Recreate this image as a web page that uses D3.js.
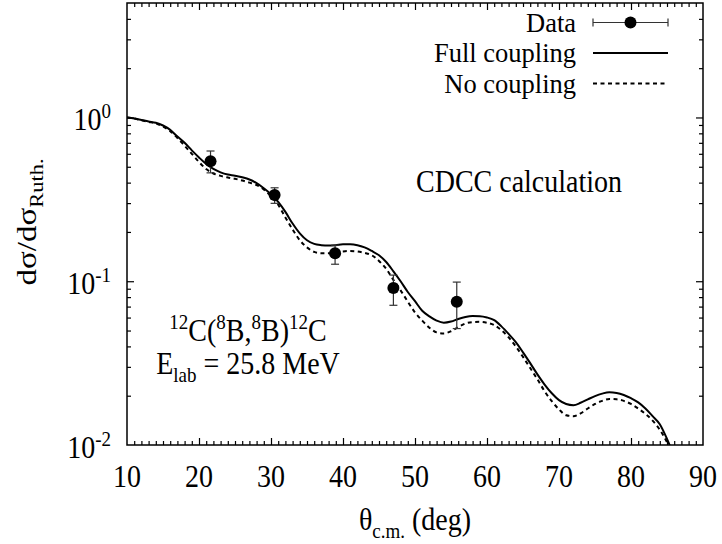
<!DOCTYPE html>
<html>
<head>
<meta charset="utf-8">
<script src="https://cdn.jsdelivr.net/npm/d3@7"></script>
<style>
  html, body { margin: 0; padding: 0; background: #fff; }
  svg { display: block; }
</style>
</head>
<body>
<svg id="chart" width="722" height="544"></svg>
<script>
// ---------------- data ----------------
const xTickValues = [10, 20, 30, 40, 50, 60, 70, 80, 90];
const xTickLabels = ["10", "20", "30", "40", "50", "60", "70", "80", "90"];
const yTickValues = [1, 0.1, 0.01];
const yTickBase = ["10", "10", "10"];
const yTickExp = ["0", "-1", "-2"];

const dataTheta = [21.6, 30.5, 38.9, 47.0, 55.8];
const dataValue = [0.540, 0.336, 0.148, 0.091, 0.075];
const dataErrLow = [0.459, 0.299, 0.127, 0.0713, 0.0514];
const dataErrHigh = [0.624, 0.372, 0.166, 0.109, 0.0988];

const curveTheta = [10, 11, 12, 13, 14, 15, 16, 17, 18, 19, 20, 21, 22, 23, 24, 25, 26, 27, 28, 29,
  30, 31, 32, 33, 34, 35, 36, 37, 38, 39, 40, 41, 42, 43, 44, 45, 46, 47, 48, 49,
  50, 51, 52, 53, 54, 55, 56, 57, 58, 59, 60, 61, 62, 63, 64, 65, 66, 67, 68, 69,
  70, 71, 72, 73, 74, 75, 76, 77, 78, 79, 80, 81, 82, 83, 84, 85, 86];
const fullCoupling = [1.0, 0.985, 0.965, 0.945, 0.928, 0.893, 0.84, 0.765, 0.70, 0.63,
  0.57, 0.52, 0.485, 0.462, 0.448, 0.441, 0.431, 0.418, 0.397, 0.37,
  0.34, 0.305, 0.265, 0.225, 0.196, 0.178, 0.169, 0.166, 0.165, 0.166,
  0.168, 0.168, 0.166, 0.161, 0.153, 0.144, 0.131, 0.115, 0.100, 0.086,
  0.0755, 0.066, 0.061, 0.0575, 0.0558, 0.0567, 0.0588, 0.0605, 0.0613, 0.0612,
  0.0601, 0.0578, 0.0530, 0.0477, 0.0425, 0.0368, 0.0316, 0.0270, 0.0234, 0.0207,
  0.0188, 0.0178, 0.0175, 0.0181, 0.0190, 0.0199, 0.0206, 0.0210, 0.0208, 0.0202,
  0.0193, 0.0182, 0.0167, 0.0150, 0.0134, 0.0109, 0.0085];
const noCoupling = [1.0, 0.985, 0.963, 0.94, 0.92, 0.88, 0.825, 0.75, 0.672, 0.60,
  0.535, 0.484, 0.455, 0.44, 0.43, 0.422, 0.412, 0.40, 0.387, 0.364,
  0.33, 0.293, 0.245, 0.207, 0.178, 0.161, 0.151, 0.148, 0.148, 0.150,
  0.152, 0.153, 0.152, 0.149, 0.144, 0.133, 0.119, 0.102, 0.088, 0.075,
  0.0645, 0.0575, 0.052, 0.0487, 0.048, 0.0495, 0.0525, 0.0552, 0.0563, 0.0565,
  0.0558, 0.054, 0.0503, 0.0455, 0.040, 0.0345, 0.0295, 0.0252, 0.0213, 0.0185,
  0.0165, 0.0152, 0.0150, 0.0156, 0.0167, 0.0178, 0.0186, 0.0191, 0.0190, 0.0186,
  0.0178, 0.0167, 0.0155, 0.0141, 0.0124, 0.0104, 0.0082];

const legendLabels = ["Data", "Full coupling", "No coupling"];

// ---------------- layout ----------------
const W = 722, H = 544;
const M = { left: 127, right: 703, top: 3, bottom: 445 };
const FS = 28, FS2 = 19, SY = 1.15;
const FONT = "'Liberation Serif', 'Times New Roman', Tinos, 'Nimbus Roman', 'DejaVu Serif', serif";

const svg = d3.select("#chart");
const x = d3.scaleLinear().domain([10, 90]).range([M.left, M.right]);
const y = d3.scaleLog().domain([0.01, 5]).range([M.bottom, M.top]);

// text helper with sub/superscripts
function richText(px, py, parts, anchor, rotate, stretch, fs) {
  const size0 = fs || FS;
  const tf = rotate
    ? `translate(${px},${py}) rotate(-90) scale(${stretch},1)`
    : `translate(${px},${py}) scale(1,${stretch})`;
  const g = svg.append("g").attr("transform", tf);
  const t = g.append("text").attr("x", 0).attr("y", 0)
    .attr("text-anchor", anchor)
    .attr("font-family", FONT)
    .style("font-family", FONT)
    .style("font-size", size0 + "px").attr("fill", "#000");
  let cur = 0;
  parts.forEach(p => {
    const kind = p[1] || "n";
    let target = 0, size = size0;
    if (kind === "sup") { target = -10.5; size = FS2; }
    if (kind === "sub") { target = 7; size = FS2; }
    t.append("tspan").attr("dy", target - cur).style("font-size", size + "px").text(p[0]);
    cur = target;
  });
  return g;
}

// ---------------- ticks via axes ----------------
const xMinor = [];
for (let v = 11; v < 90; v++) if (v % 10 !== 0) xMinor.push(v);
const yMinor = [];
[0.01, 0.1, 1].forEach(d => { for (let k = 2; k <= 9; k++) { const v = k * d; if (v < 5) yMinor.push(v); } });

function axisG(axis, tx, ty) {
  const g = svg.append("g").attr("transform", `translate(${tx},${ty})`).call(axis);
  g.select(".domain").remove();
  g.selectAll("line").attr("stroke", "#000").attr("stroke-width", 1.2);
  g.selectAll("text").remove();
  return g;
}
axisG(d3.axisBottom(x).tickValues(xTickValues.slice(1, -1)).tickSize(-7).tickFormat(""), 0, M.bottom);
axisG(d3.axisTop(x).tickValues(xTickValues.slice(1, -1)).tickSize(-7).tickFormat(""), 0, M.top);
axisG(d3.axisBottom(x).tickValues(xMinor).tickSize(-4).tickFormat(""), 0, M.bottom);
axisG(d3.axisTop(x).tickValues(xMinor).tickSize(-4).tickFormat(""), 0, M.top);
axisG(d3.axisLeft(y).tickValues(yTickValues.slice(0, 2)).tickSize(-7).tickFormat(""), M.left, 0);
axisG(d3.axisRight(y).tickValues(yTickValues.slice(0, 2)).tickSize(-7).tickFormat(""), M.right, 0);
axisG(d3.axisLeft(y).tickValues(yMinor).tickSize(-4).tickFormat(""), M.left, 0);
axisG(d3.axisRight(y).tickValues(yMinor).tickSize(-4).tickFormat(""), M.right, 0);

// frame
svg.append("rect").attr("x", M.left).attr("y", M.top)
  .attr("width", M.right - M.left).attr("height", M.bottom - M.top)
  .attr("fill", "none").attr("stroke", "#000").attr("stroke-width", 1.5);

// tick labels
xTickValues.forEach((v, i) => richText(x(v), 487, [[xTickLabels[i]]], "middle", false, SY));
yTickValues.forEach((v, i) => richText(111, y(v) + 13, [[yTickBase[i]], [yTickExp[i], "sup"]], "end", false, SY));

// axis titles
richText(415, 530, [["θ"], ["c.m.", "sub"], [" (deg)"]], "middle", false, SY);
richText(36, 222, [["dσ/dσ"], ["Ruth.", "sub"]], "middle", true, 1.18);

// ---------------- curves ----------------
svg.append("clipPath").attr("id", "clip").append("rect")
  .attr("x", M.left).attr("y", M.top).attr("width", M.right - M.left).attr("height", M.bottom - M.top);
const line = d3.line().x(d => x(d[0])).y(d => y(d[1])).curve(d3.curveMonotoneX);
const plot = svg.append("g").attr("clip-path", "url(#clip)");
plot.append("path").datum(curveTheta.map((t, i) => [t, noCoupling[i]]))
  .attr("d", line).attr("fill", "none").attr("stroke", "#000")
  .attr("stroke-width", 2).attr("stroke-dasharray", "4,3.5");
plot.append("path").datum(curveTheta.map((t, i) => [t, fullCoupling[i]]))
  .attr("d", line).attr("fill", "none").attr("stroke", "#000").attr("stroke-width", 2);

// data points with error bars
const pts = dataTheta.map((t, i) => ({ t, v: dataValue[i], lo: dataErrLow[i], hi: dataErrHigh[i] }));
const pg = svg.append("g");
pts.forEach(d => {
  pg.append("line").attr("x1", x(d.t)).attr("x2", x(d.t)).attr("y1", y(d.lo)).attr("y2", y(d.hi))
    .attr("stroke", "#333").attr("stroke-width", 1.2);
  [d.lo, d.hi].forEach(e => pg.append("line").attr("x1", x(d.t) - 4).attr("x2", x(d.t) + 4)
    .attr("y1", y(e)).attr("y2", y(e)).attr("stroke", "#333").attr("stroke-width", 1.2));
  pg.append("circle").attr("cx", x(d.t)).attr("cy", y(d.v)).attr("r", 6).attr("fill", "#000");
});

// ---------------- legend ----------------
const legY = [22.5, 53, 83.5];
const lx0 = 593, lx1 = 668, ltx = 576;
legendLabels.forEach((s, i) => richText(ltx, legY[i] + 9, [[s]], "end", false, 1.05, 26.5));
svg.append("line").attr("x1", lx0).attr("x2", lx1).attr("y1", legY[0]).attr("y2", legY[0])
  .attr("stroke", "#333").attr("stroke-width", 1.2);
[lx0, lx1].forEach(xx => svg.append("line").attr("x1", xx).attr("x2", xx)
  .attr("y1", legY[0] - 4).attr("y2", legY[0] + 4).attr("stroke", "#333").attr("stroke-width", 1.2));
svg.append("circle").attr("cx", (lx0 + lx1) / 2).attr("cy", legY[0]).attr("r", 6).attr("fill", "#000");
svg.append("line").attr("x1", lx0).attr("x2", lx1).attr("y1", legY[1]).attr("y2", legY[1])
  .attr("stroke", "#000").attr("stroke-width", 2);
svg.append("line").attr("x1", lx0).attr("x2", lx1).attr("y1", legY[2]).attr("y2", legY[2])
  .attr("stroke", "#000").attr("stroke-width", 2).attr("stroke-dasharray", "4,3.5");

// ---------------- annotations ----------------
richText(519, 192, [["CDCC calculation"]], "middle", false, SY);
richText(248, 341, [["12", "sup"], ["C("], ["8", "sup"], ["B,"], ["8", "sup"], ["B)"], ["12", "sup"], ["C"]], "middle", false, SY);
richText(248, 374, [["E"], ["lab", "sub"], [" = 25.8 MeV"]], "middle", false, SY);
</script>
</body>
</html>
